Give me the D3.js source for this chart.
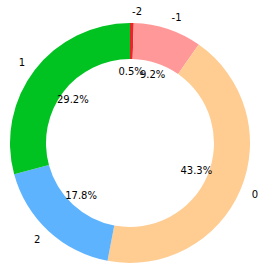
<!DOCTYPE html>
<html>
<head>
<meta charset="utf-8">
<script src="https://cdn.jsdelivr.net/npm/d3@7"></script>
<style>
  body { margin: 0; background: #fff; }
  text { font-family: "DejaVu Sans", sans-serif; font-size: 10px; fill: #000; }
</style>
</head>
<body>
<div id="container"></div>
<script>
let w = 272;
let h = 276;

// slices in clockwise order from 12 o'clock
let labels = ["-2", "-1", "0", "2", "1"];
let values = [0.5, 9.2, 43.3, 17.8, 29.2];
let colors = ["#e8262a", "#ff9999", "#ffcc91", "#5eb3ff", "#00c322"];

let cx = 130, cy = 143;
let outerR = 120;
let innerR = outerR * 0.7;

let viz = d3.select("#container")
  .append("svg")
    .attr("width", w)
    .attr("height", h);

let data = labels.map((l, i) => ({label: l, value: values[i], color: colors[i]}));

let pie = d3.pie().value(d => d.value).sort(null);
let arcs = pie(data);

let arc = d3.arc().innerRadius(innerR).outerRadius(outerR);

let g = viz.append("g").attr("transform", `translate(${cx},${cy})`);

g.selectAll("path")
  .data(arcs)
  .join("path")
    .attr("d", arc)
    .attr("fill", d => d.data.color);

function pos(d, r) {
  let a = (d.startAngle + d.endAngle) / 2;
  return [r * Math.sin(a), -r * Math.cos(a)];
}

// category labels outside
g.selectAll("text.lab")
  .data(arcs)
  .join("text")
    .attr("class", "lab")
    .attr("x", d => pos(d, outerR * 1.1)[0])
    .attr("y", d => pos(d, outerR * 1.1)[1])
    .attr("dy", "0.35em")
    .attr("text-anchor", d => pos(d, 1)[0] >= 0 ? "start" : "end")
    .text(d => d.data.label);

// percentages inside
g.selectAll("text.pct")
  .data(arcs)
  .join("text")
    .attr("class", "pct")
    .attr("x", d => pos(d, outerR * 0.6)[0])
    .attr("y", d => pos(d, outerR * 0.6)[1])
    .attr("dy", "0.35em")
    .attr("text-anchor", "middle")
    .text(d => d.data.value.toFixed(1) + "%");
</script>
</body>
</html>
